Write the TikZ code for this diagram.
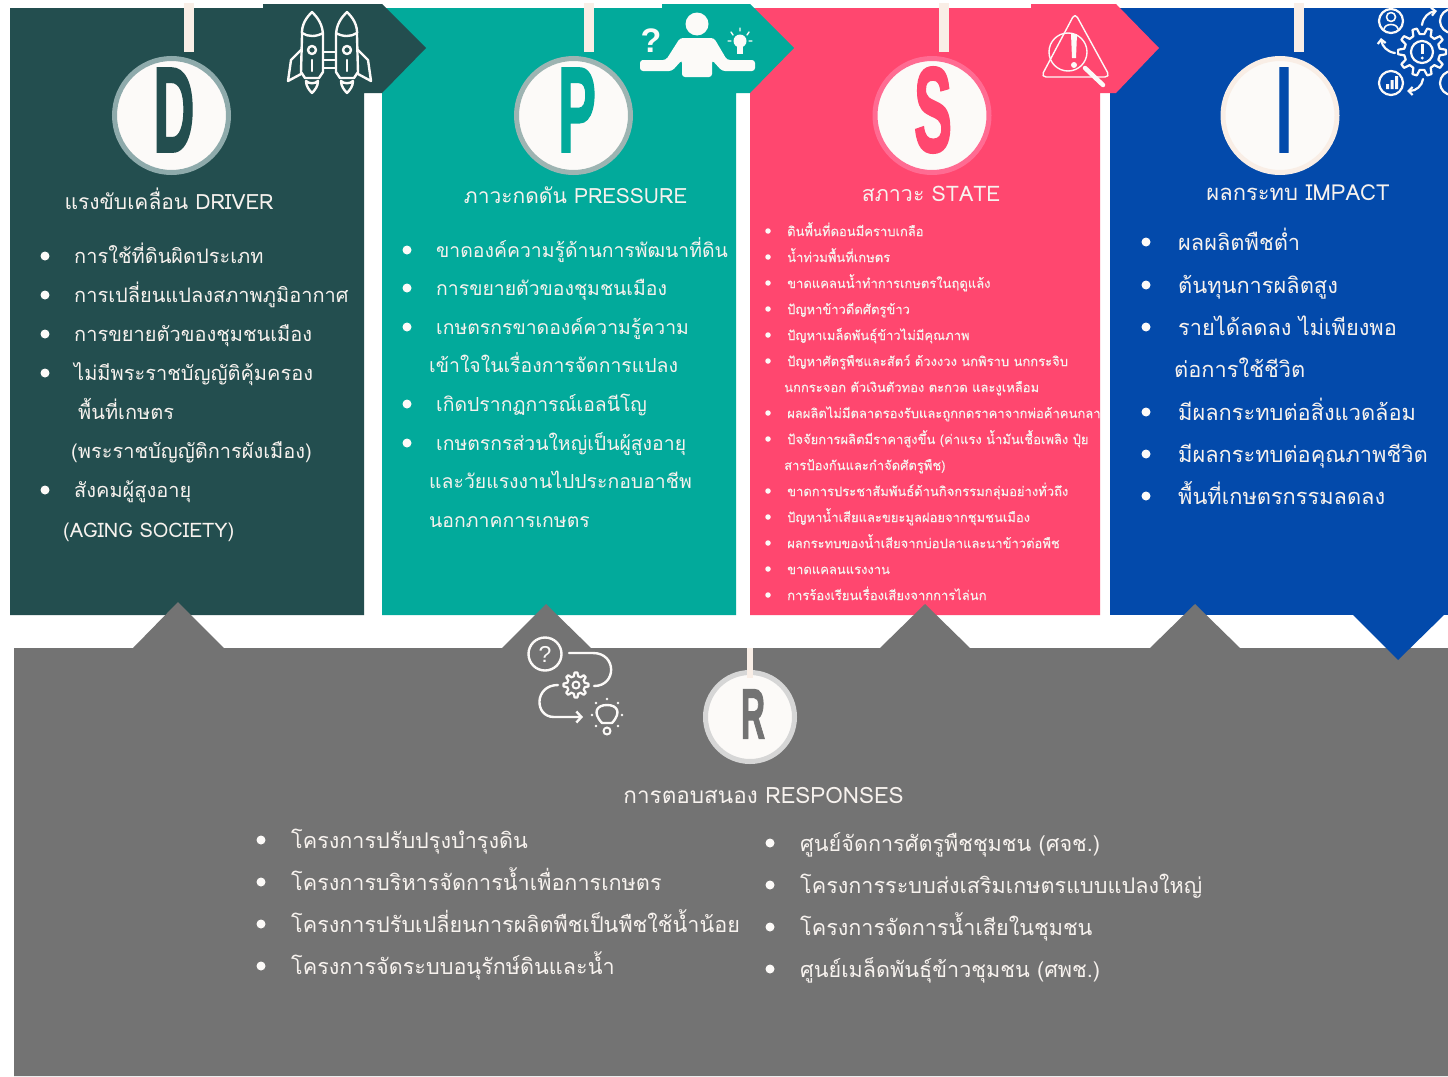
\documentclass[tikz,border=0pt]{standalone}
\usepackage{fontspec}
\setmainfont{Liberation Sans}
\newfontfamily\thaif[Script=Thai]{Loma}
\newfontfamily\thais[Script=Thai,FakeBold=0.3]{Loma}
\newfontfamily\bigf[FakeBold=2]{Liberation Sans Bold}
\newfontfamily\iconq{Liberation Sans}
\newfontfamily\iconb{Liberation Sans Bold}
\usetikzlibrary{arrows.meta}
\definecolor{cdrv}{HTML}{234E4F}
\definecolor{cprs}{HTML}{02AA9B}
\definecolor{csta}{HTML}{FF476F}
\definecolor{cimp}{HTML}{034AAB}
\definecolor{cres}{HTML}{737373}
\definecolor{cream}{HTML}{F9EEE6}
\definecolor{disc}{HTML}{FCFAF8}
\definecolor{txt}{HTML}{F7F2EE}
\definecolor{ringd}{HTML}{8EAAAB}
\definecolor{ringp}{HTML}{9DB4B2}
\definecolor{rings}{HTML}{FF6B92}
\definecolor{ringr}{HTML}{D6D6D6}
\newcommand\lsize{20}
\newcommand\lbase{7}
\tikzset{
  peg/.style={fill=cream,draw=none},
  medal/.style={circle,fill=disc,line width=5pt,inner sep=0pt},
  bigletter/.style={inner sep=0pt,font=\bigf\fontsize{121}{121}\selectfont,xscale=.47},
  titletext/.style={anchor=base,inner sep=0pt,text=txt,font=\thaif\fontsize{#1}{#1}\selectfont},
  dtext/.style={anchor=base west,inner sep=0pt,text=txt,font=\thaif\fontsize{\lsize}{\lsize}\selectfont},
  stext/.style={anchor=base west,inner sep=0pt,text=txt,font=\thais\fontsize{13}{13}\selectfont},
  bullet/.style={circle,fill=disc,inner sep=0pt,minimum size=#1},
  iconl/.style={draw=disc,line width=2.4pt,line cap=round,line join=round},
  iconf/.style={fill=disc,draw=none}
}
\newcommand\litem[5]{\node[dtext] (#1t) at (#3,#4+\lbase) {#5};\node[bullet=9pt] (#1b) at (#2,#4) {};}
\newcommand\lcont[4]{\node[dtext] (#1t) at (#2,#3+\lbase) {#4};}
\newcommand\sitem[3]{\node[stext] (#1t) at (787,#2+5) {#3};\node[bullet=5.5pt] (#1b) at (768,#2) {};}
\newcommand\scont[3]{\node[stext] (#1t) at (784,#2+5) {#3};}
\newcommand\gearshape[6]{% cx cy Ro Ri n width
  \begin{scope}[shift={(#1,#2)}]
  \pgfmathsetmacro\gstep{360/#5}
  \draw[iconl,line width=#6] ({-0.30*\gstep}:#4)
    \foreach \k in {1,...,#5} {
      \pgfextra{\pgfmathsetmacro\ga{(\k-1)*\gstep}}
      -- ({\ga-0.30*\gstep}:#4) -- ({\ga-0.15*\gstep}:#3) -- ({\ga+0.15*\gstep}:#3) -- ({\ga+0.30*\gstep}:#4)
    } -- cycle;
  \end{scope}}
\newcommand\rocket[2]{% cx, side (+1/-1 for fin side)
  \begin{scope}[shift={(#1,0)},x=#2pt]
  \draw[iconl] (-10,36) .. controls (-11,24) and (-5,17) .. (0,12) .. controls (5,17) and (11,24) .. (11,36)
     -- (11,72) -- (7,78) -- (-7,78) -- (-11,72) -- cycle;
  \draw[iconl] (-10,33) .. controls (-4,37) and (4,37) .. (11,33);
  \draw[iconl] (-11,50) -- (-21,60) -- (-24,81) -- (-11,74);
  \draw[iconl] (0,50) circle (4);
  \draw[iconl] (0,60) -- (0,71);
  \draw[iconl] (-6,81) .. controls (-6,86) and (-3,90) .. (0,93) .. controls (3,90) and (6,86) .. (6,81) .. controls (3,84) and (-3,84) .. (-6,81);
  \end{scope}}
\begin{document}
\begin{tikzpicture}[x=1pt,y=-1pt]
\clip (0,0) rectangle (1448,1076);
\useasboundingbox (0,0) rectangle (1448,1076);
\fill[white] (0,0) rectangle (1448,1076);
% panels
\fill[cimp] (1110,8) -- (1448,8) -- (1448,615) -- (1110,615) -- cycle;
\fill[csta] (750,8) -- (1031,8) -- (1031,4) -- (1116,4) -- (1159,48) -- (1116,93) -- (1100,93) -- (1100,615) -- (750,615) -- cycle;
\fill[cprs] (382,8) -- (662,8) -- (662,4) -- (750,4) -- (794,48) -- (750,93) -- (736,93) -- (736,615) -- (382,615) -- cycle;
\fill[cdrv] (10,8) -- (263,8) -- (263,4) -- (382,4) -- (426,48) -- (382,93) -- (364,93) -- (364,615) -- (10,615) -- cycle;
\fill[cres] (14,648) -- (133,648) -- (178,602) -- (224,648) -- (502,648) -- (546,604) -- (591,648) -- (880,648) -- (925,604) -- (970,648) -- (1150,648) -- (1195,604) -- (1240,648) -- (1448,648) -- (1448,1076) -- (14,1076) -- cycle;
\fill[cimp] (1352,614) -- (1445,614) -- (1398,660) -- cycle;
% pegs and medals
\fill[peg] (184,3) rectangle (194,52);
\fill[peg] (584,3) rectangle (594,52);
\fill[peg] (939,3) rectangle (949,52);
\fill[peg] (1294,3) rectangle (1304,52);
\node[medal,draw=ringd,minimum size=114pt] (md) at (171.5,115.5) {};
\node[medal,draw=ringp,minimum size=114pt] (mp) at (573.5,115.5) {};
\node[medal,draw=rings,minimum size=114pt] (ms) at (932,115.5) {};
\node[medal,draw=cream,minimum size=114pt] (mi) at (1280,115.5) {};
\node[medal,draw=ringr,minimum size=89pt] (mr) at (750,717) {};
\fill[peg] (747,648) rectangle (753,678);
\node[bigletter,text=cdrv] (ld) at (174,110) {D};
\node[bigletter,text=cprs] (lp) at (577,110) {P};
\node[bigletter,text=csta] (ls) at (933,110) {S};
\node[bigletter,text=cimp] (li) at (1284,110) {I};
\node[bigletter,text=cres,font=\bigf\fontsize{71}{71}\selectfont] (lr) at (753,714) {R};
% titles
\node[titletext=21] (td) at (169,209) {แรงขับเคลื่อน DRIVER};
\node[titletext=21] (tp) at (575.5,203) {ภาวะกดดัน PRESSURE};
\node[titletext=21.4] (ts) at (931,201) {สภาวะ STATE};
\node[titletext=22] (ti) at (1298,200) {ผลกระทบ IMPACT};
\node[titletext=22.5] (tr) at (763.5,803) {การตอบสนอง RESPONSES};
% driver list
\litem{d1}{45}{74}{256}{การใช้ที่ดินผิดประเภท}
\litem{d2}{45}{74}{295}{การเปลี่ยนแปลงสภาพภูมิอากาศ}
\litem{d3}{45}{74}{334}{การขยายตัวของชุมชนเมือง}
\litem{d4}{45}{74}{373}{ไม่มีพระราชบัญญัติคุ้มครอง}
\lcont{d5}{78}{412}{พื้นที่เกษตร}
\lcont{d6}{71}{451}{(พระราชบัญญัติการผังเมือง)}
\litem{d7}{45}{74}{490}{สังคมผู้สูงอายุ}
\lcont{d8}{63}{530}{(AGING SOCIETY)}
% pressure list
\renewcommand\lsize{19.4}
\litem{p1}{407}{436}{250}{ขาดองค์ความรู้ด้านการพัฒนาที่ดิน}
\litem{p2}{407}{436}{288}{การขยายตัวของชุมชนเมือง}
\litem{p3}{407}{436}{327}{เกษตรกรขาดองค์ความรู้ความ}
\lcont{p4}{429}{365}{เข้าใจในเรื่องการจัดการแปลง}
\litem{p5}{407}{436}{404}{เกิดปรากฏการณ์เอลนีโญ}
\litem{p6}{407}{436}{443}{เกษตรกรส่วนใหญ่เป็นผู้สูงอายุ}
\lcont{p7}{429}{481}{และวัยแรงงานไปประกอบอาชีพ}
\lcont{p8}{429}{520}{นอกภาคการเกษตร}
% state list
\begin{scope}
\clip (750,200) rectangle (1100,615);
\sitem{s1}{231}{ดินพื้นที่ดอนมีคราบเกลือ}
\sitem{s2}{257}{น้ำท่วมพื้นที่เกษตร}
\sitem{s3}{283}{ขาดแคลนน้ำทำการเกษตรในฤดูแล้ง}
\sitem{s4}{309}{ปัญหาข้าวดีดศัตรูข้าว}
\sitem{s5}{335}{ปัญหาเมล็ดพันธุ์ข้าวไม่มีคุณภาพ}
\sitem{s6}{361}{ปัญหาศัตรูพืชและสัตว์ ด้วงงวง นกพิราบ นกกระจิบ}
\scont{s7}{387}{นกกระจอก ตัวเงินตัวทอง ตะกวด และงูเหลือม}
\sitem{s8}{413}{ผลผลิตไม่มีตลาดรองรับและถูกกดราคาจากพ่อค้าคนกลาง}
\sitem{s9}{439}{ปัจจัยการผลิตมีราคาสูงขึ้น (ค่าแรง น้ำมันเชื้อเพลิง ปุ๋ย}
\scont{s10}{465}{สารป้องกันและกำจัดศัตรูพืช)}
\sitem{s11}{491}{ขาดการประชาสัมพันธ์ด้านกิจกรรมกลุ่มอย่างทั่วถึง}
\sitem{s12}{517}{ปัญหาน้ำเสียและขยะมูลฝอยจากชุมชนเมือง}
\sitem{s13}{543}{ผลกระทบของน้ำเสียจากบ่อปลาและนาข้าวต่อพืช}
\sitem{s14}{569}{ขาดแคลนแรงงาน}
\sitem{s15}{595}{การร้องเรียนเรื่องเสียงจากการไล่นก}
\end{scope}
% impact list
\renewcommand\lsize{21.8}
\renewcommand\lbase{8}
\litem{i1}{1146}{1178}{242}{ผลผลิตพืชต่ำ}
\litem{i2}{1146}{1178}{285}{ต้นทุนการผลิตสูง}
\litem{i3}{1146}{1178}{327}{รายได้ลดลง ไม่เพียงพอ}
\lcont{i4}{1174}{369}{ต่อการใช้ชีวิต}
\litem{i5}{1146}{1178}{412}{มีผลกระทบต่อสิ่งแวดล้อม}
\litem{i6}{1146}{1178}{454}{มีผลกระทบต่อคุณภาพชีวิต}
\litem{i7}{1146}{1178}{496}{พื้นที่เกษตรกรรมลดลง}
% responses
\renewcommand\lsize{21.6}
\litem{r1}{261}{291}{840}{โครงการปรับปรุงบำรุงดิน}
\litem{r2}{261}{291}{882}{โครงการบริหารจัดการน้ำเพื่อการเกษตร}
\litem{r3}{261}{291}{924}{โครงการปรับเปลี่ยนการผลิตพืชเป็นพืชใช้น้ำน้อย}
\litem{r4}{261}{291}{966}{โครงการจัดระบบอนุรักษ์ดินและน้ำ}
\litem{r5}{770}{800}{843}{ศูนย์จัดการศัตรูพืชชุมชน (ศจช.)}
\litem{r6}{770}{800}{885}{โครงการระบบส่งเสริมเกษตรแบบแปลงใหญ่}
\litem{r7}{770}{800}{927}{โครงการจัดการน้ำเสียในชุมชน}
\litem{r8}{770}{800}{969}{ศูนย์เมล็ดพันธุ์ข้าวชุมชน (ศพช.)}
% rocket icon
\rocket{312}{1}
\rocket{347}{-1}
\draw[iconl] (323,52) -- (336,52) (323,60) -- (336,60) (323,68) -- (336,68);
% person icon
\fill[iconf] (697,24) circle (11.5);
\fill[iconf,rounded corners=3pt] (645,60) -- (666,60) -- (680,38) -- (714,38) -- (727,60) -- (755,60) -- (755,71) -- (722,71) -- (712,60) -- (712,77) -- (682,77) -- (682,60) -- (672,71) -- (640,71) -- (640,60) -- cycle;
\node[inner sep=0pt,text=disc,font=\iconb\fontsize{34}{34}\selectfont] (pq) at (651,41) {?};
\fill[iconf] (740,41) circle (6.5);
\fill[iconf] (737,46) rectangle (743,54);
\draw[iconl,line width=1.4pt] (728,41) -- (731,41) (749,41) -- (752,41) (731,32) -- (733,35) (749,32) -- (747,35) (740,28) -- (740,31);
% alert icon
\draw[iconl,line width=1.4pt,rounded corners=5pt] (1075,13) -- (1110,77) -- (1041,77) -- cycle;
\draw[iconl,line width=1.4pt] (1068,52) circle (19);
\draw[iconl,line width=4.5pt] (1085,68) -- (1103,85);
\fill[iconf] (1071,34) -- (1077,34) -- (1076,58) -- (1072,58) -- cycle;
\fill[iconf] (1074,65) circle (3);
% impact icon
\gearshape{1422}{52}{24}{18}{10}{2.2pt}
\draw[iconl,line width=2.2pt] (1422,52) circle (11);
\fill[iconf] (1421,44) rectangle (1423.5,54);
\fill[iconf] (1422.2,58) circle (1.7);
\draw[iconl,line width=2.2pt] (1391,21) circle (12);
\draw[iconl,line width=1.6pt] (1391,17) circle (4.5) (1384,29) .. controls (1385,23) and (1397,23) .. (1398,29);
\draw[iconl,line width=2.2pt] (1391,83) circle (12);
\fill[iconf] (1386,84) rectangle (1389,89) (1390.5,80) rectangle (1393.5,89) (1395,76) rectangle (1398,89);
\draw[iconl,line width=2.2pt] (1452,21) circle (12) (1452,83) circle (12);
\draw[iconl,line width=2.2pt,-{Straight Barb[length=4pt,width=8pt]}] (1422,25) .. controls (1423,17) and (1429,12) .. (1437,11);
\draw[iconl,line width=2.2pt,-{Straight Barb[length=4pt,width=8pt]}] (1395,53) .. controls (1387,52) and (1382,46) .. (1381,38);
\draw[iconl,line width=2.2pt,-{Straight Barb[length=4pt,width=8pt]}] (1423,79) .. controls (1422,86) and (1416,91) .. (1407,91);
% process icon
\draw[iconl] (545,654) circle (16.5);
\node[inner sep=0pt,text=disc,font=\iconq\fontsize{23}{23}\selectfont] (rq) at (545,654) {?};
\draw[iconl] (569,653) -- (593,653) .. controls (617,653) and (617,686) .. (594,686);
\gearshape{576}{685}{12.5}{9}{8}{2.2pt}
\draw[iconl,line width=2pt] (576,685) circle (3.5);
\draw[iconl,-{Straight Barb[length=5pt,width=11pt]}] (558,685) .. controls (534,685) and (534,717) .. (554,717) -- (583,717);
\draw[iconl] (602,723) .. controls (592,712) and (597,705) .. (607,705) .. controls (617,705) and (622,712) .. (612,723) -- cycle;
\draw[iconl,line width=2pt] (607,731) circle (3.5);
\fill[iconf] (607,699) circle (1.4) (596,703) circle (1.4) (618,703) circle (1.4) (592,715) circle (1.4) (622,715) circle (1.4) (596,726) circle (1.4) (618,726) circle (1.4);
\end{tikzpicture}
\end{document}
